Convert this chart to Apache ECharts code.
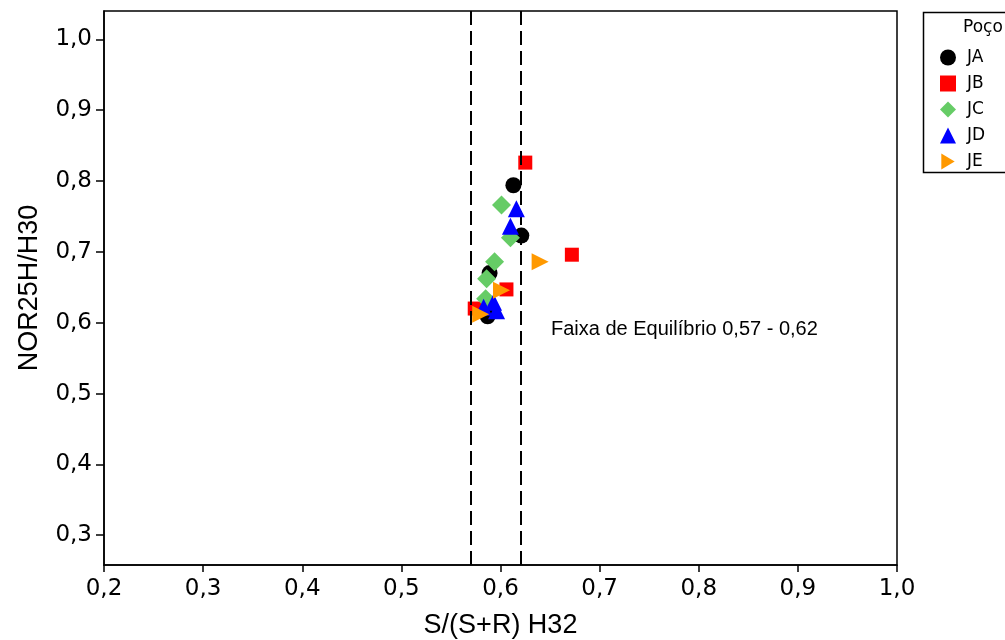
<!DOCTYPE html>
<html>
<head>
<meta charset="utf-8">
<script src="https://cdn.jsdelivr.net/npm/echarts@6/dist/echarts.min.js"></script>
<style>
html,body{margin:0;padding:0;background:#fff;}
#chart{width:1005px;height:640px;}
</style>
</head>
<body>
<div id="chart"></div>
<script>
// Data
const seriesNames = ['JA', 'JB', 'JC', 'JD', 'JE'];
const JA = [[0.613, 0.794], [0.621, 0.723], [0.589, 0.670], [0.587, 0.609]];
const JB = [[0.625, 0.826], [0.672, 0.696], [0.606, 0.647], [0.574, 0.620]];
const JC = [[0.601, 0.766], [0.610, 0.720], [0.594, 0.686], [0.586, 0.662], [0.585, 0.634]];
const JD = [[0.616, 0.761], [0.610, 0.736], [0.583, 0.622], [0.593, 0.629], [0.596, 0.617]];
const JE = [[0.640, 0.686], [0.601, 0.646], [0.580, 0.612]];
const equilibriumLines = [0.57, 0.62];
const yTicks = [0.3, 0.4, 0.5, 0.6, 0.7, 0.8, 0.9, 1.0];
const annotationText = 'Faixa de Equilíbrio 0,57 - 0,62';
const legendTitle = 'Poço';
const xTitle = 'S/(S+R) H32';
const yTitle = 'NOR25H/H30';

const fmt = v => v.toFixed(1).replace('.', ',');
const rightTriangle = 'path://M0,0 L10,6 L0,12 Z';

const styles = {
  JA: {symbol: 'circle', symbolSize: 16, color: '#000000', rotate: 0, icon: 'circle'},
  JB: {symbol: 'rect', symbolSize: 14, color: '#ff0000', rotate: 0, icon: 'rect'},
  JC: {symbol: 'diamond', symbolSize: 19, color: '#66cc66', rotate: 0, icon: 'diamond'},
  JD: {symbol: 'triangle', symbolSize: 17, color: '#0000ff', rotate: 0, icon: 'triangle'},
  JE: {symbol: 'triangle', symbolSize: 17, color: '#ff9900', rotate: -90, icon: rightTriangle}
};
const dataMap = {JA, JB, JC, JD, JE};

const series = seriesNames.map((n, i) => {
  const s = styles[n];
  const obj = {
    name: n,
    type: 'scatter',
    data: dataMap[n],
    symbol: s.symbol,
    symbolSize: s.symbolSize,
    symbolRotate: s.rotate,
    itemStyle: {color: s.color, opacity: 1},
    emphasis: {disabled: true},
    z: 3 + i
  };
  if (i === 0) {
    obj.markLine = {
      silent: true,
      symbol: ['none', 'none'],
      label: {show: false},
      lineStyle: {color: '#000', type: [14, 6], width: 2},
      data: equilibriumLines.map(v => ({xAxis: v}))
    };
  }
  return obj;
});

const chart = echarts.init(document.getElementById('chart'), null, {renderer: 'canvas'});
chart.setOption({
  animation: false,
  backgroundColor: '#ffffff',
  grid: {left: 104, right: 108, top: 11, bottom: 75, containLabel: false, outerBoundsMode: 'none', show: true, borderColor: '#000', borderWidth: 1.5, backgroundColor: 'transparent'},
  xAxis: {
    type: 'value', min: 0.2, max: 1.0, interval: 0.1,
    name: xTitle, nameLocation: 'middle', nameGap: 47,
    nameTextStyle: {fontFamily: 'Liberation Sans', fontSize: 27, color: '#000'},
    axisLine: {show: true, onZero: false, lineStyle: {color: '#000', width: 1.5}},
    axisTick: {show: true, length: 7, lineStyle: {color: '#000', width: 1.5}},
    axisLabel: {formatter: fmt, fontFamily: 'DejaVu Sans', fontSize: 23, color: '#000', margin: 13},
    splitLine: {show: false}
  },
  yAxis: {
    type: 'value', min: 0.258, max: 1.04,
    name: yTitle, nameLocation: 'middle', nameGap: 61,
    nameTextStyle: {fontFamily: 'Liberation Sans', fontSize: 27, color: '#000'},
    axisLine: {show: true, onZero: false, lineStyle: {color: '#000', width: 1.5}},
    axisTick: {show: true, length: 8, customValues: yTicks, lineStyle: {color: '#000', width: 1.5}},
    axisLabel: {formatter: fmt, customValues: yTicks, fontFamily: 'DejaVu Sans', fontSize: 23, color: '#000', margin: 12},
    splitLine: {show: false}
  },
  legend: {
    orient: 'vertical', left: 935, top: 44,
    itemWidth: 16, itemHeight: 16, itemGap: 9,
    data: seriesNames.map(n => ({name: n, icon: styles[n].icon})),
    textStyle: {fontFamily: 'DejaVu Sans', fontSize: 17, color: '#000', padding: [0, 0, 0, 6]},
    selectedMode: false
  },
  graphic: [
    {type: 'rect', left: 921, top: 10, shape: {width: 110, height: 160}, style: {fill: 'none', stroke: '#000', lineWidth: 1.5}, z: 10},
    {type: 'text', left: 963, top: 19, style: {text: legendTitle, font: '17px "DejaVu Sans"', fill: '#000'}, z: 11},
    {type: 'text', left: 551, top: 319, style: {text: annotationText, font: '20px "Liberation Sans"', fill: '#000'}, z: 11}
  ],
  series: series
});
</script>
</body>
</html>
